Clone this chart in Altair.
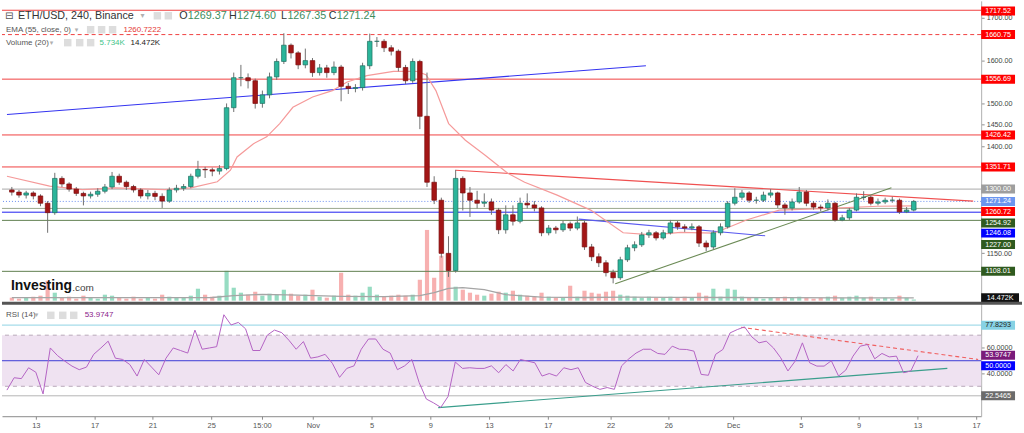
import altair as alt
import pandas as pd

FONT = "Liberation Sans"
SYM = "DejaVu Sans"

# ---------------- data ----------------
# half-day candles starting Oct 11 (x unit = days since Oct 1)
closes = [1293, 1286, 1291, 1284, 1267, 1245, 1325, 1312, 1300, 1290,
          1284, 1288, 1295, 1305, 1330, 1316, 1306, 1298, 1284, 1290,
          1283, 1272, 1298, 1302, 1306, 1330, 1346, 1345, 1342, 1348,
          1490, 1560, 1560, 1553, 1500, 1520, 1562, 1598, 1636, 1618,
          1590, 1600, 1572, 1583, 1572, 1585, 1540, 1535, 1537, 1588,
          1645, 1645, 1630, 1622, 1584, 1553, 1598, 1470, 1316, 1274,
          1150, 1110, 1325, 1291, 1274, 1267, 1270, 1251, 1205, 1240,
          1225, 1267, 1263, 1256, 1198, 1209, 1205, 1219, 1209, 1221,
          1165, 1142, 1128, 1105, 1093, 1135, 1163, 1170, 1193, 1198,
          1186, 1198, 1221, 1212, 1209, 1212, 1174, 1165, 1198, 1212,
          1267, 1281, 1291, 1274, 1274, 1286, 1291, 1263, 1256, 1270,
          1293, 1267, 1258, 1256, 1267, 1228, 1233, 1251, 1281, 1281,
          1267, 1270, 1274, 1274, 1247, 1251, 1271.24]
highs = [1305, 1298, 1296, 1295, 1288, 1272, 1338, 1330, 1316, 1305,
         1294, 1294, 1302, 1312, 1340, 1336, 1320, 1310, 1302, 1298,
         1296, 1290, 1304, 1310, 1312, 1336, 1366, 1352, 1350, 1356,
         1500, 1572, 1590, 1570, 1558, 1530, 1572, 1605, 1664, 1640,
         1622, 1628, 1606, 1592, 1590, 1598, 1590, 1548, 1545, 1595,
         1663, 1655, 1650, 1636, 1626, 1590, 1605, 1602, 1572, 1330,
         1280, 1190, 1345, 1330, 1305, 1296, 1290, 1278, 1256, 1262,
         1262, 1280, 1290, 1272, 1260, 1216, 1214, 1226, 1224, 1236,
         1226, 1172, 1150, 1134, 1112, 1142, 1170, 1178, 1200, 1205,
         1202, 1205, 1228, 1226, 1218, 1220, 1216, 1180, 1204, 1220,
         1272, 1302, 1298, 1295, 1282, 1294, 1300, 1294, 1268, 1278,
         1305, 1298, 1272, 1264, 1276, 1270, 1240, 1256, 1290, 1295,
         1285, 1278, 1280, 1282, 1278, 1258, 1274.60]
lows = [1285, 1280, 1278, 1276, 1260, 1198, 1240, 1305, 1294, 1284,
        1262, 1278, 1282, 1290, 1300, 1310, 1298, 1292, 1278, 1276,
        1274, 1256, 1268, 1292, 1296, 1302, 1325, 1326, 1330, 1334,
        1344, 1480, 1540, 1535, 1488, 1490, 1512, 1555, 1592, 1605,
        1580, 1582, 1562, 1565, 1560, 1566, 1505, 1522, 1526, 1530,
        1580, 1632, 1620, 1612, 1575, 1545, 1548, 1440, 1305, 1265,
        1140, 1095, 1105, 1250, 1235, 1255, 1258, 1240, 1195, 1196,
        1215, 1220, 1255, 1248, 1190, 1192, 1196, 1200, 1202, 1204,
        1158, 1132, 1118, 1096, 1080, 1088, 1130, 1155, 1165, 1186,
        1180, 1182, 1194, 1205, 1200, 1204, 1165, 1155, 1160, 1192,
        1208, 1262, 1275, 1268, 1266, 1270, 1280, 1256, 1240, 1250,
        1266, 1260, 1252, 1248, 1250, 1224, 1225, 1228, 1248, 1274,
        1262, 1262, 1265, 1268, 1242, 1244, 1248]
first_open = 1298
volumes_k = [15, 10, 15, 20, 25, 100, 40, 15, 20, 10,
             25, 15, 10, 30, 25, 15, 10, 20, 10, 15,
             10, 30, 20, 15, 15, 25, 60, 30, 20, 25,
             150, 65, 40, 30, 45, 25, 35, 30, 55, 35,
             25, 30, 55, 20, 15, 25, 140, 30, 25, 40,
             70, 30, 20, 25, 30, 25, 30, 105, 355, 115,
             225, 150, 70, 55, 40, 30, 25, 35, 45, 40,
             50, 30, 25, 20, 40, 20, 15, 15, 75, 20,
             50, 40, 35, 45, 50, 30, 25, 20, 15, 20,
             15, 15, 20, 15, 20, 15, 40, 25, 60, 20,
             60, 55, 20, 15, 15, 10, 15, 15, 20, 15,
             20, 15, 10, 15, 20, 25, 15, 20, 25, 15,
             20, 10, 15, 10, 25, 15, 5.734]
rsi_vals = [27, 36.7, 36, 44.5, 41, 24, 60, 54, 49.7, 45.8,
            43, 45, 55, 60, 65.3, 52, 51, 47, 38, 51,
            45, 39, 52, 60, 58, 56, 74, 59, 60, 61,
            86, 78, 80, 75, 58, 58, 70, 74, 72, 66,
            59, 65, 52, 53, 55, 48, 37, 44, 46, 59,
            67, 67, 59, 56, 43, 46, 51, 33, 20, 17,
            13.5, 22, 49, 44, 44.5, 44, 44, 46, 40.6, 47,
            42, 51, 49.7, 48.4, 38, 40, 38, 44.5, 43, 44.5,
            33, 30, 27.6, 29, 27.6, 46, 51.5, 56, 59, 59,
            55.7, 55, 61.4, 59, 58.8, 57.5, 39.3, 38.6, 55, 58.8,
            71.8, 74.4, 76.5, 68.7, 64, 65.3, 60, 52.3, 42, 49.7,
            64, 48.4, 45.8, 45.8, 50, 38, 42.7, 53.6, 61.4, 62.7,
            51.5, 55.7, 53, 53.6, 40.6, 42, 53.9747]

ema_days = [9.66, 12.64, 14.94, 17.23, 20.68, 22.51, 24.35, 25.27, 25.73, 26.88,
            27.80, 28.71, 29.63, 31.01, 32.39, 33.42, 34.80, 36.66, 38.24, 38.93,
            39.62, 40.51, 41.68, 43.06, 44.64, 45.82, 48.09, 50.43, 52.70, 54.77,
            56.72, 59.02, 60.16, 61.31, 63.60, 67.05, 70.49, 73.0]
ema_vals = [1330, 1307, 1299, 1303, 1299, 1303, 1317, 1344, 1375, 1406,
            1422, 1453, 1491, 1515, 1530, 1550, 1565, 1575, 1575, 1567,
            1530, 1453, 1414, 1379, 1337, 1316, 1286, 1251, 1198, 1193,
            1199, 1197, 1212, 1228, 1251, 1255, 1260, 1260.72]

vma_days = [10, 20, 24, 25.5, 27.5, 30, 33, 36, 38.5, 39.5, 40.5, 41.5, 43, 44.5, 47, 50, 53, 56, 60, 64, 68, 73]
vma_vals = [15, 15, 16, 25, 32, 28, 22, 20, 25, 40, 62, 65, 55, 30, 18, 16, 18, 17, 16, 15, 14, 14.472]

level_prices = [1717.52, 1660.75, 1556.69, 1426.42, 1351.71, 1300.00, 1271.24, 1254.92, 1246.08, 1227.00, 1108.01]
label_prices = [1717.52, 1660.75, 1556.69, 1426.42, 1351.71, 1300.00, 1271.24, 1260.72, 1254.92, 1246.08, 1227.00, 1108.01]
price_ticks = [1150, 1400, 1450, 1500, 1600, 1700]

blue_up_days, blue_up_vals = [9.66, 54.29], [1474, 1588]
red_dn_days, red_dn_vals = [41.0, 77.15], [1344, 1272]
green_up_days, green_up_vals = [52.15, 71.44], [1079, 1303]
blue_dn_days, blue_dn_vals = [49.6, 62.62], [1230, 1191]

rsi_label_vals = [77.8293, 53.9747, 50.0, 22.5465]
rsi_ticks = [40, 60]
rsi_teal_days, rsi_teal_vals = [39.82, 75.02], [13.3, 44.0]
rsi_red_days, rsi_red_vals = [60.76, 77.15], [76.2, 51.0]

tick_days = [12.0, 16.06, 20.06, 24.12, 27.63, 31.15, 35.21, 39.27, 43.34,
             47.40, 51.74, 55.73, 60.21, 64.89, 68.89, 72.95, 77.01]
tick_labels = ["13", "17", "21", "25", "15:00", "Nov", "5", "9", "13",
               "17", "22", "26", "Dec", "5", "9", "13", "17"]

# ---------------- styles ----------------
level_styles = [("#f04040", None), ("#f04040", [4, 3]), ("#f04040", None), ("#f04040", None),
                ("#f04040", None), ("#a9a9a9", None), ("#6a8ef0", [1, 2]), ("#9aa88e", None),
                ("#1f1ff0", None), ("#5f7f4f", None), ("#5f7f4f", None)]
label_styles = [("#ff0000", 0.8), ("#ff0000", 0), ("#ff0000", 0), ("#ff0000", 0), ("#ff0000", 0),
                ("#9e9e9e", 0), ("#6b95ef", 0), ("#ff0000", 5.7), ("#2f5a1f", 14.6),
                ("#0000ff", 21), ("#2f5a1f", 24.3), ("#2f5a1f", 0)]
rsi_label_styles = [("#86d2e4", "#222222", 0), ("#7a1a7a", "white", -0.5),
                    ("#0000ff", "white", 5), ("#6b6b6b", "white", 0)]

W = 983
H_MAIN = 305
H_RSI = 112

xs = alt.Scale(domain=[9.66, 77.36], nice=False, zero=False)
ps = alt.Scale(domain=[1030.23, 1739.53], nice=False, zero=False)
vs = alt.Scale(domain=[-20, 1505], nice=False, zero=False)
rs = alt.Scale(domain=[6.57, 93.9], nice=False, zero=False)

price_axis = alt.Axis(orient="right", values=price_ticks, format=".2f", title=None,
                      grid=False, domainColor="#b0b0b0", tickColor="#909090", tickSize=3,
                      labelFontSize=7.2, labelColor="#444444", labelPadding=2, labelFont=FONT,
                      labelOverlap=False, labelFlush=False)
rsi_axis = alt.Axis(orient="right", values=rsi_ticks, format=".4f", title=None, grid=False,
                    domainColor="#b0b0b0", tickColor="#909090", tickSize=3, labelFontSize=7.2,
                    labelColor="#444444", labelPadding=2, labelFont=FONT, labelOverlap=False,
                    labelFlush=False)
vals_str = ",".join(str(int(round(v * 100))) for v in tick_days)
labs_str = ",".join("'" + s + "'" for s in tick_labels)
x_axis = alt.Axis(values=tick_days, labelExpr=f"[{labs_str}][indexof([{vals_str}], round(datum.value*100))]",
                  title=None, grid=False, domainColor="#8a8a8a", tickColor="#8a8a8a", tickSize=3,
                  labelFontSize=7.5, labelColor="#555555", labelPadding=2, labelFont=FONT,
                  labelOverlap=False, labelFlush=False)

opens = [first_open] + closes[:-1]
days = [10.0 + 0.5 * i for i in range(len(closes))]
cdf = pd.DataFrame({"day": days, "open": opens, "high": highs, "low": lows,
                    "close": closes, "vol": volumes_k, "rsi": rsi_vals})
one = pd.DataFrame({"k": [0]})

XM = alt.X("day:Q", scale=xs, axis=None)
XR = alt.X("day:Q", scale=xs, axis=x_axis)


def PY(f):
    return alt.Y(f, scale=ps, axis=price_axis)


def RY(f):
    return alt.Y(f, scale=rs, axis=rsi_axis)


def txt(s, x, y, color="#333333", size=8, weight="normal", font=FONT, align="left"):
    return alt.Chart(one).mark_text(text=s, align=align, baseline="middle", color=color,
                                    fontSize=size, fontWeight=weight, font=font).encode(
        x=alt.value(x), y=alt.value(y))


def icon(x, y):
    return alt.Chart(one).mark_square(size=56, color="#dddddd", opacity=1).encode(
        x=alt.value(x), y=alt.value(y))


up = "datum.close >= datum.open"

# ---------------- main panel ----------------
vol_bars = alt.Chart(cdf).mark_bar(size=4.2, opacity=1).encode(
    x=XM, y=alt.Y("vol:Q", scale=vs, axis=None),
    fill=alt.when(up).then(alt.value("#96dcc2")).otherwise(alt.value("#f7b0b0")))
vma_df = pd.DataFrame({"day": vma_days, "v": vma_vals})
vma_line = alt.Chart(vma_df).mark_line(color="#a5a5a5", strokeWidth=1.3).encode(
    x=XM, y=alt.Y("v:Q", scale=vs, axis=None))
vma_box = alt.Chart(one).mark_tick(orient="horizontal", size=38, thickness=9, color="#111111",
                                   opacity=1).encode(
    x=alt.value(1002), y=alt.YDatum(vma_vals[-1], scale=vs, axis=None))
vma_txt = alt.Chart(one).mark_text(text="14.472K", color="white", fontSize=7.2, font=FONT,
                                   align="center", baseline="middle").encode(
    x=alt.value(1002), y=alt.YDatum(vma_vals[-1], scale=vs, axis=None))
vol_group = alt.layer(vol_bars, vma_line, vma_box, vma_txt)

price_layers = []
for p, (col, dash) in zip(level_prices, level_styles):
    kw = {"color": col, "strokeWidth": 1}
    if dash:
        kw["strokeDash"] = dash
    price_layers.append(alt.Chart(one).mark_rule(**kw).encode(y=alt.YDatum(p, scale=ps, axis=price_axis)))


def seg(d, v, color, width=1.1):
    df = pd.DataFrame({"day": d, "p": v})
    return alt.Chart(df).mark_line(color=color, strokeWidth=width).encode(x=XM, y=PY("p:Q"))


price_layers += [
    seg(blue_up_days, blue_up_vals, "#3434f0"),
    seg(red_dn_days, red_dn_vals, "#f05050"),
    seg(green_up_days, green_up_vals, "#6b8a55"),
    seg(blue_dn_days, blue_dn_vals, "#5a5af0"),
]
ema_df = pd.DataFrame({"day": ema_days, "p": ema_vals})
price_layers.append(alt.Chart(ema_df).mark_line(color="#f59a9a", strokeWidth=1.2).encode(
    x=XM, y=PY("p:Q")))
price_layers.append(alt.Chart(cdf).mark_rule(color="#707070", strokeWidth=1).encode(
    x=XM, y=PY("low:Q"), y2="high:Q"))
price_layers.append(alt.Chart(cdf).mark_bar(size=4.6, strokeWidth=0.7, opacity=1).encode(
    x=XM, y=PY("open:Q"), y2="close:Q",
    fill=alt.when(up).then(alt.value("#2bb59a")).otherwise(alt.value("#a31616")),
    stroke=alt.when(up).then(alt.value("#1f6f60")).otherwise(alt.value("#7a0e0e"))))

for p, (bg, nudge) in zip(label_prices, label_styles):
    price_layers.append(alt.Chart(one).mark_tick(orient="horizontal", size=34, thickness=9, color=bg,
                                                 opacity=1, yOffset=nudge).encode(
        x=alt.value(1000), y=alt.YDatum(p, scale=ps, axis=price_axis)))
    price_layers.append(alt.Chart(one).mark_text(text=f"{p:.2f}", color="white", fontSize=7.2, font=FONT,
                                                 align="center", baseline="middle", yOffset=nudge).encode(
        x=alt.value(1000), y=alt.YDatum(p, scale=ps, axis=price_axis)))

# header / legend texts
price_layers += [
    txt("\u229f", 3, 15, color="#555555", size=10, font=SYM),
    txt("ETH/USD, 240, Binance", 16, 15, color="#333333", size=10.8),
    txt("\u25be", 139, 15, color="#b0b0b0", size=8, font=SYM),
    icon(156, 15), icon(167, 15),
    txt("O", 178, 15, color="#333333", size=10.8), txt("1269.37", 186.5, 15, color="#3d8c5c", size=10.8),
    txt("H", 228, 15, color="#333333", size=10.8), txt("1274.60", 236, 15, color="#3d8c5c", size=10.8),
    txt("L", 280, 15, color="#333333", size=10.8), txt("1267.35", 286.5, 15, color="#3d8c5c", size=10.8),
    txt("C", 328, 15, color="#333333", size=10.8), txt("1271.24", 336, 15, color="#3d8c5c", size=10.8),
    txt("EMA (55, close, 0)", 4, 29, color="#555555", size=8),
    txt("\u25be", 73, 29, color="#b0b0b0", size=7, font=SYM),
    icon(89, 29), icon(100, 29), icon(111, 29),
    txt("1260.7222", 122, 29, color="#e53935", size=8),
    txt("Volume (20)", 4, 42, color="#555555", size=8),
    txt("\u25be", 48, 42, color="#b0b0b0", size=7, font=SYM),
    icon(66, 42), icon(78, 42), icon(89, 42),
    txt("5.734K", 98, 42, color="#44c48a", size=8),
    txt("14.472K", 129, 42, color="#222222", size=8),
    txt("Investing", 9, 286, color="#111111", size=14, weight="bold"),
    txt(".com", 70.5, 288, color="#444444", size=10),
    alt.Chart(one).mark_rule(color="#555555", strokeWidth=3).encode(
        x=alt.value(0), x2=alt.value(1024), y=alt.value(303.5)),
]
price_group = alt.layer(*price_layers)

main = alt.layer(vol_group, price_group).resolve_scale(y="independent").properties(width=W, height=H_MAIN)

# ---------------- RSI panel ----------------
rsi_layers = [
    alt.Chart(one).mark_rect(color="#efe2f1", opacity=1).encode(
        y=alt.YDatum(30, scale=rs, axis=rsi_axis), y2=alt.Y2Datum(70)),
    alt.Chart(one).mark_rule(color="#b9a9b9", strokeDash=[4, 4], strokeWidth=1).encode(
        y=alt.YDatum(70, scale=rs, axis=rsi_axis)),
    alt.Chart(one).mark_rule(color="#b9a9b9", strokeDash=[4, 4], strokeWidth=1).encode(
        y=alt.YDatum(30, scale=rs, axis=rsi_axis)),
    alt.Chart(one).mark_rule(color="#a6dcea", strokeWidth=1.2).encode(
        y=alt.YDatum(rsi_label_vals[0], scale=rs, axis=rsi_axis)),
    alt.Chart(one).mark_rule(color="#b5b5b5", strokeWidth=1).encode(
        y=alt.YDatum(rsi_label_vals[3], scale=rs, axis=rsi_axis)),
    alt.Chart(one).mark_rule(color="#3b3bd6", strokeWidth=1).encode(
        y=alt.YDatum(50, scale=rs, axis=rsi_axis)),
    alt.Chart(pd.DataFrame({"day": rsi_teal_days, "r": rsi_teal_vals})).mark_line(
        color="#3a9e8c", strokeWidth=1.2).encode(x=XR, y=RY("r:Q")),
    alt.Chart(pd.DataFrame({"day": rsi_red_days, "r": rsi_red_vals})).mark_line(
        color="#f06060", strokeWidth=1.1, strokeDash=[4, 3]).encode(x=XR, y=RY("r:Q")),
    alt.Chart(cdf).mark_line(color="#b463c4", strokeWidth=1).encode(x=XR, y=RY("rsi:Q")),
]
for v, (bg, fg, nudge) in zip(rsi_label_vals, rsi_label_styles):
    rsi_layers.append(alt.Chart(one).mark_tick(orient="horizontal", size=34, thickness=9, color=bg,
                                               opacity=1, yOffset=nudge).encode(
        x=alt.value(1000), y=alt.YDatum(v, scale=rs, axis=rsi_axis)))
    rsi_layers.append(alt.Chart(one).mark_text(text=f"{v:.4f}", color=fg, fontSize=7.2, font=FONT,
                                               align="center", baseline="middle", yOffset=nudge).encode(
        x=alt.value(1000), y=alt.YDatum(v, scale=rs, axis=rsi_axis)))
rsi_layers += [
    txt("RSI (14)", 4, 10.7, color="#555555", size=8),
    txt("\u25be", 33, 10.7, color="#b0b0b0", size=7, font=SYM),
    icon(49, 10.7), icon(61, 10.7), icon(72, 10.7),
    txt("53.9747", 83, 10.7, color="#8b1c8b", size=8),
]
rsi_chart = alt.layer(*rsi_layers).properties(width=W, height=H_RSI)

chart = alt.vconcat(main, rsi_chart, spacing=0, bounds="flush").properties(
    padding=0, background="white").configure_view(strokeWidth=0)

chart.save("out.html", embed_options={"renderer": "svg", "actions": False})
